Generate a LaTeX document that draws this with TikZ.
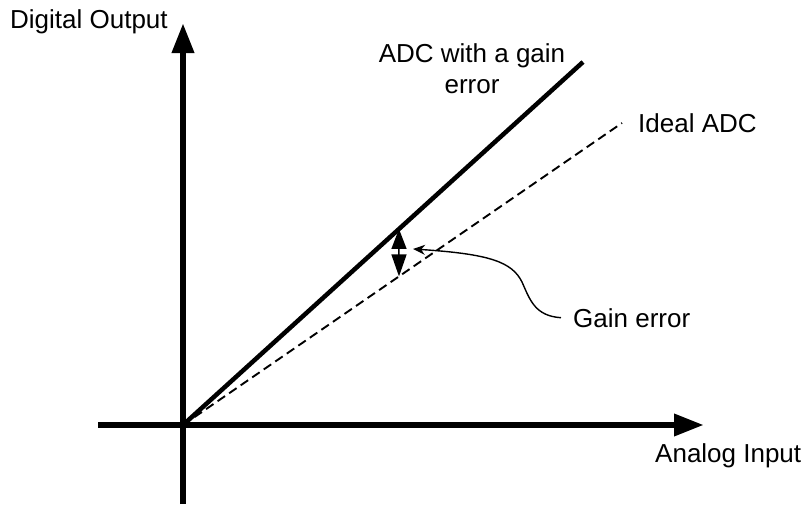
\documentclass[tikz,border=0pt]{standalone}
\usepackage{fontspec}
\setmainfont{Liberation Sans}
\usetikzlibrary{arrows.meta,calc}
\begin{document}
\begin{tikzpicture}[x=1pt,y=-1pt,
  lbl/.style={font=\fontsize{26}{31}\selectfont, inner sep=0pt},
  axisline/.style={line width=6.5pt, -{Triangle[length=30pt,width=21pt]}},
  adcline/.style={line width=4.5pt},
  idealline/.style={line width=1.9pt, dash pattern=on 9pt off 5pt},
  gainarrow/.style={line width=1.5pt, {Triangle[length=20pt,width=15pt]}-{Triangle[length=22pt,width=15pt]}},
  pointer/.style={line width=1.4pt, -{Stealth[length=12pt,width=10pt]}}]
\useasboundingbox (0,0) rectangle (807,506);
% axes
\coordinate (O) at (183,425);
\coordinate (ybot) at (183,504);
\coordinate (ytop) at (183,23);
\coordinate (xleft) at (98,425);
\coordinate (xright) at (704,425);
\draw[axisline] (ybot) -- (ytop);
\draw[axisline] (xleft) -- (xright);
% transfer lines
\coordinate (adcend) at (583,62);
\coordinate (idealend) at (622,123);
\draw[adcline] (O) -- (adcend);
\draw[idealline] (O) -- (idealend);
% gain error arrow
\coordinate (ga) at ($(O)!0.54!(adcend)$);
\coordinate (gb) at ($(O)!0.492!(idealend)$);
\draw[gainarrow] (ga) -- (gb);
% labels
\node[lbl, anchor=base west] (yl) at (10,28) {Digital Output};
\node[lbl, anchor=base west] (xl) at (655,462) {Analog Input};
\node[lbl, anchor=north, align=center] (adcl) at (472,43) {ADC with a gain\\error};
\node[lbl, anchor=base west] (idl) at (638,132) {Ideal ADC};
\node[lbl, anchor=base west] (ge) at (573,327) {Gain error};
% pointer curve
\coordinate (gtip) at (413,249);
\draw[pointer] ([xshift=-12pt]ge.west) .. controls (535,316) and (530,300) .. (522,282)
   .. controls (512,262) and (490,254) .. (gtip);
\end{tikzpicture}
\end{document}
